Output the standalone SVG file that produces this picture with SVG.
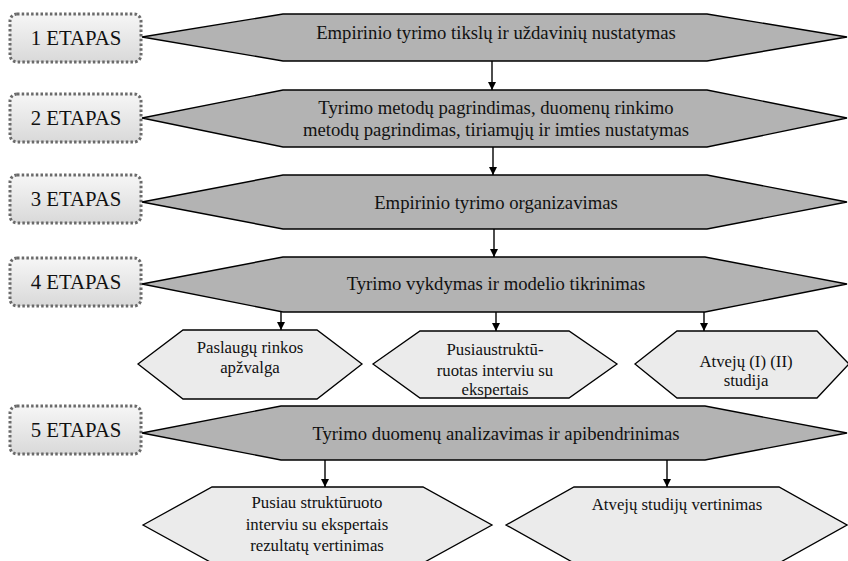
<svg xmlns="http://www.w3.org/2000/svg" width="848" height="561" viewBox="0 0 848 561">
<defs>
<linearGradient id="boxg" x1="0" y1="0" x2="0" y2="1">
<stop offset="0" stop-color="#f6f6f6"/>
<stop offset="1" stop-color="#d9d9d9"/>
</linearGradient>
<marker id="arr" viewBox="0 0 10 10" refX="10" refY="5" markerWidth="8" markerHeight="8" markerUnits="userSpaceOnUse" orient="auto">
<path d="M0,0 L10,5 L0,10 z" fill="#000"/>
</marker>
<clipPath id="clipB"><polygon points="373,364 420,331 569,331 617,364 569,398 420,398"/></clipPath>
</defs>
<style>
.etapas{fill:url(#boxg);stroke:#6a6a6a;stroke-width:3;stroke-dasharray:2.5 2.2}
.main{fill:#b3b3b3;stroke:#000;stroke-width:1.4}
.sub{fill:#ebebeb;stroke:#000;stroke-width:1.3}
.et{font-size:20.8px}
.mt{font-size:18.7px}
.st{font-size:16.8px}
.conn line{stroke:#000;stroke-width:1.4;marker-end:url(#arr)}
</style>
<rect width="848" height="561" fill="#fff"/>
<g font-family="Liberation Serif, serif" text-anchor="middle" fill="#111">
<g id="etapas1"><rect class="etapas" x="10" y="14" width="131" height="48" rx="7"/><text class="et" x="76" y="45" font-family="Liberation Serif">1 ETAPAS</text></g>
<g id="etapas2"><rect class="etapas" x="10" y="94" width="131" height="48" rx="7"/><text class="et" x="76" y="125" font-family="Liberation Serif">2 ETAPAS</text></g>
<g id="etapas3"><rect class="etapas" x="10" y="175" width="131" height="48" rx="7"/><text class="et" x="76" y="206" font-family="Liberation Serif">3 ETAPAS</text></g>
<g id="etapas4"><rect class="etapas" x="10" y="258" width="131" height="48" rx="7"/><text class="et" x="76" y="289" font-family="Liberation Serif">4 ETAPAS</text></g>
<g id="etapas5"><rect class="etapas" x="10" y="406" width="131" height="48" rx="7"/><text class="et" x="76" y="437" font-family="Liberation Serif">5 ETAPAS</text></g>

<g id="step1"><polygon class="main" points="142,37 283,14 707,14 847,37 707,61 283,61"/><text class="mt" x="496" y="39" font-family="Liberation Serif">Empirinio tyrimo tikslų ir uždavinių nustatymas</text></g>
<g id="step2"><polygon class="main" points="142,118 283,90 707,90 847,118 707,147 283,147"/><text class="mt" x="496" y="114" font-family="Liberation Serif">Tyrimo metodų pagrindimas, duomenų rinkimo</text><text class="mt" x="496" y="136" font-family="Liberation Serif">metodų pagrindimas, tiriamųjų ir imties nustatymas</text></g>
<g id="step3"><polygon class="main" points="142,202 283,175 707,175 847,202 707,229 283,229"/><text class="mt" x="496" y="209" font-family="Liberation Serif">Empirinio tyrimo organizavimas</text></g>
<g id="step4"><polygon class="main" points="142,284 283,257 705,257 847,284 705,312 283,312"/><text class="mt" x="496" y="290" font-family="Liberation Serif">Tyrimo vykdymas ir modelio tikrinimas</text></g>
<g id="step5"><polygon class="main" points="142,433 281,406 705,406 847,433 705,460 281,460"/><text class="mt" x="496" y="440" font-family="Liberation Serif">Tyrimo duomenų analizavimas ir apibendrinimas</text></g>

<g id="sub4a"><polygon class="sub" points="138,364 183,330 317,330 362,364 317,399 183,399"/><text class="st" x="250" y="353" font-family="Liberation Serif">Paslaugų rinkos</text><text class="st" x="250" y="373" font-family="Liberation Serif">apžvalga</text></g>
<g id="sub4b"><polygon class="sub" points="373,364 420,331 569,331 617,364 569,398 420,398"/><g clip-path="url(#clipB)"><text class="st" x="495" y="355" font-family="Liberation Serif">Pusiaustruktū-</text><text class="st" x="495" y="376" font-family="Liberation Serif">ruotas interviu su</text><text class="st" x="495" y="395" font-family="Liberation Serif">ekspertais</text></g></g>
<g id="sub4c"><polygon class="sub" points="635,364 677,331 817,331 849,364 817,398 677,398"/><text class="st" x="746" y="367" font-family="Liberation Serif">Atvejų (I) (II)</text><text class="st" x="746" y="386" font-family="Liberation Serif">studija</text></g>

<g id="sub5a"><polygon class="sub" points="143,525 212,487 423,487 492,525 423,563 212,563"/><text class="st" x="317" y="508" font-family="Liberation Serif">Pusiau struktūruoto</text><text class="st" x="317" y="530" font-family="Liberation Serif">interviu su ekspertais</text><text class="st" x="317" y="551" font-family="Liberation Serif">rezultatų vertinimas</text></g>
<g id="sub5b"><polygon class="sub" points="506,525 574,487 779,487 847,525 779,563 574,563"/><text class="st" x="677" y="510" font-family="Liberation Serif">Atvejų studijų vertinimas</text></g>
</g>
<g id="connectors" class="conn">
<line x1="492" y1="61" x2="492" y2="90"/>
<line x1="493" y1="147" x2="493" y2="175"/>
<line x1="494" y1="229" x2="494" y2="257"/>
<line x1="281" y1="312" x2="281" y2="330"/>
<line x1="496" y1="312" x2="496" y2="331"/>
<line x1="704" y1="312" x2="704" y2="331"/>
<line x1="325" y1="460" x2="325" y2="487"/>
<line x1="667" y1="460" x2="667" y2="487"/>
</g>
</svg>
